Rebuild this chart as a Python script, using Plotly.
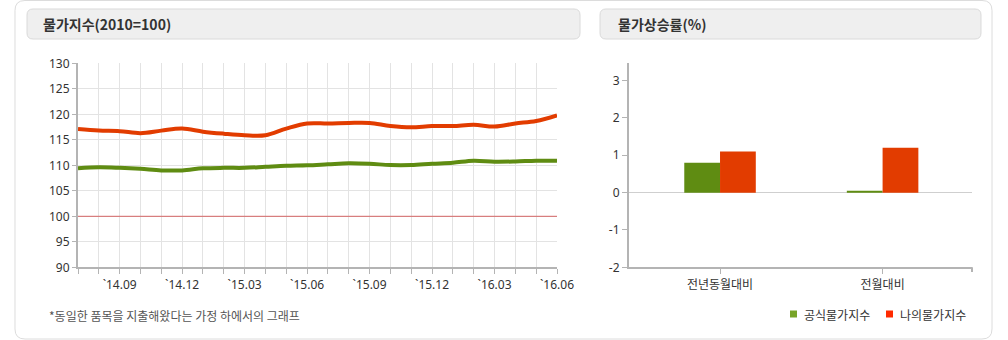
import plotly.graph_objects as go

W, H = 1008, 340

# --- data -----------------------------------------------------------------
months = ["2014-07", "2014-08", "2014-09", "2014-10", "2014-11", "2014-12",
          "2015-01", "2015-02", "2015-03", "2015-04", "2015-05", "2015-06",
          "2015-07", "2015-08", "2015-09", "2015-10", "2015-11", "2015-12",
          "2016-01", "2016-02", "2016-03", "2016-04", "2016-05", "2016-06"]
month_labels = ["", "", "`14.09", "", "", "`14.12", "", "", "`15.03", "", "", "`15.06",
                "", "", "`15.09", "", "", "`15.12", "", "", "`16.03", "", "", "`16.06"]
official_index = [109.4, 109.6, 109.5, 109.3, 109.0, 109.0, 109.4, 109.5, 109.5, 109.7,
                  109.9, 110.0, 110.2, 110.4, 110.3, 110.05, 110.05, 110.3, 110.5, 110.9,
                  110.7, 110.75, 110.9, 110.9]
my_index = [117.1, 116.8, 116.7, 116.3, 116.8, 117.2, 116.6, 116.2, 115.9, 115.9,
            117.2, 118.2, 118.2, 118.3, 118.3, 117.7, 117.45, 117.7, 117.7, 117.95,
            117.6, 118.2, 118.7, 119.8]
base_level = 100

rate_categories = ["전년동월대비", "전월대비"]
official_rate = [0.8, 0.03]
my_rate = [1.1, 1.2]
rate_ticks = [-2, -1, 0, 1, 2, 3]
rate_tick_text = ["-2", "-1", "0", "1", "2", "3"]

GREEN = "#5f8c12"
RED = "#e23c00"
FONT = "Noto Sans CJK KR, sans-serif"
NUM_FONT = "Noto Sans, sans-serif"


def px(x):
    return x / W


def py(y):
    return 1 - y / H


def round_rect(x0, y0, x1, y1, r):
    pts = [
        ("M", (x0 + r, y0)), ("L", (x1 - r, y0)), ("Q", (x1, y0), (x1, y0 + r)),
        ("L", (x1, y1 - r)), ("Q", (x1, y1), (x1 - r, y1)), ("L", (x0 + r, y1)),
        ("Q", (x0, y1), (x0, y1 - r)), ("L", (x0, y0 + r)), ("Q", (x0, y0), (x0 + r, y0)),
    ]
    out = []
    for item in pts:
        cmd = item[0]
        coords = " ".join(f"{px(a):.5f},{py(b):.5f}" for a, b in item[1:])
        out.append(f"{cmd}{coords}")
    return " ".join(out) + " Z"


fig = go.Figure()

# --- index lines ----------------------------------------------------------
fig.add_trace(go.Scatter(x=months, y=official_index, mode="lines", name="공식물가지수",
                         line=dict(color=GREEN, width=4, shape="spline", smoothing=1.0),
                         xaxis="x", yaxis="y", showlegend=False, hoverinfo="x+y"))
fig.add_trace(go.Scatter(x=months, y=my_index, mode="lines", name="나의물가지수",
                         line=dict(color=RED, width=4, shape="spline", smoothing=1.0),
                         xaxis="x", yaxis="y", showlegend=False, hoverinfo="x+y"))

# --- rate bars ------------------------------------------------------------
fig.add_trace(go.Bar(x=rate_categories, y=official_rate, name="공식물가지수",
                     marker=dict(color=GREEN, line=dict(width=0)),
                     xaxis="x2", yaxis="y2", showlegend=False))
fig.add_trace(go.Bar(x=rate_categories, y=my_rate, name="나의물가지수",
                     marker=dict(color=RED, line=dict(width=0)),
                     xaxis="x2", yaxis="y2", showlegend=False))

tick_font = dict(family=FONT, size=12, color="#333333")
num_font = dict(family=NUM_FONT, size=12, color="#333333")
grid = "#e3e3e3"
axis_line = "#b4b4b4"

shapes = [
    # outer card
    dict(type="path", xref="paper", yref="paper", layer="below",
         path=round_rect(15, 0.5, 992, 339, 10),
         line=dict(color="#dcdcdc", width=1), fillcolor="white"),
    # panel title bars
    dict(type="path", xref="paper", yref="paper", layer="below",
         path=round_rect(27, 9, 580, 39, 6),
         line=dict(color="#dadada", width=1), fillcolor="#efefef"),
    dict(type="path", xref="paper", yref="paper", layer="below",
         path=round_rect(600, 9, 981, 39, 6),
         line=dict(color="#dadada", width=1), fillcolor="#efefef"),
    # base level 100
    dict(type="line", xref="x domain", yref="y", x0=0, x1=1, y0=base_level, y1=base_level,
         line=dict(color="#d46464", width=1)),
    # end tick of rate axis
    dict(type="line", xref="paper", yref="paper", x0=px(972), x1=px(972),
         y0=py(267.3), y1=py(272), line=dict(color=axis_line, width=2)),
    # legend swatches
    dict(type="rect", xref="paper", yref="paper", x0=px(790), x1=px(797),
         y0=py(317.5), y1=py(310.5), line=dict(width=0), fillcolor="#78a428"),
    dict(type="rect", xref="paper", yref="paper", x0=px(886), x1=px(893),
         y0=py(317.5), y1=py(310.5), line=dict(width=0), fillcolor="#ff2a00"),
]

annotations = [
    dict(text="<b>물가지수(2010=100)</b>", x=px(41), y=py(24.5), xref="paper", yref="paper",
         xanchor="left", yanchor="middle", showarrow=False,
         font=dict(family=FONT, size=14, color="#333333")),
    dict(text="<b>물가상승률(%)</b>", x=px(616), y=py(24.5), xref="paper", yref="paper",
         xanchor="left", yanchor="middle", showarrow=False,
         font=dict(family=FONT, size=14, color="#333333")),
    dict(text="*동일한 품목을 지출해왔다는 가정 하에서의 그래프", x=px(47), y=py(315),
         xref="paper", yref="paper", xanchor="left", yanchor="middle", showarrow=False,
         font=dict(family=FONT, size=12, color="#555555")),
    dict(text="공식물가지수", x=px(802), y=py(314), xref="paper", yref="paper",
         xanchor="left", yanchor="middle", showarrow=False,
         font=dict(family=FONT, size=12, color="#333333")),
    dict(text="나의물가지수", x=px(898), y=py(314), xref="paper", yref="paper",
         xanchor="left", yanchor="middle", showarrow=False,
         font=dict(family=FONT, size=12, color="#333333")),
]

fig.update_layout(
    template="none",
    width=W, height=H,
    margin=dict(l=0, r=0, t=0, b=0, pad=0, autoexpand=False),
    paper_bgcolor="white",
    plot_bgcolor="rgba(0,0,0,0)",
    font=dict(family=FONT, size=12, color="#333333"),
    barmode="group", bargap=0.56, bargroupgap=0,
    shapes=shapes,
    annotations=annotations,
    xaxis=dict(domain=[px(78), px(557)], anchor="y", type="category",
               categoryorder="array", categoryarray=months,
               range=[0, len(months) - 1], automargin=False,
               tickmode="array", tickvals=months, ticktext=month_labels,
               showgrid=True, gridcolor=grid, gridwidth=1,
               ticks="outside", ticklen=5, tickcolor=axis_line, tickwidth=1,
               showline=True, linecolor=axis_line, linewidth=2,
               tickfont=num_font, zeroline=False, fixedrange=True),
    yaxis=dict(domain=[py(267.3), py(63.3)], anchor="x", range=[90, 130], dtick=5,
               automargin=False,
               showgrid=True, gridcolor=grid, gridwidth=1,
               ticks="outside", ticklen=4, tickcolor=axis_line,
               showline=True, linecolor=axis_line, linewidth=2,
               tickfont=num_font, zeroline=False, fixedrange=True),
    xaxis2=dict(domain=[px(629), px(972)], anchor="y2", type="category",
                range=[-0.56, 1.55], showgrid=False, automargin=False,
                ticks="outside", ticklen=5, tickcolor=axis_line,
                showline=True, linecolor=axis_line, linewidth=2,
                tickfont=tick_font, fixedrange=True),
    yaxis2=dict(domain=[py(267.3), py(62.7)], anchor="x2", range=[-2, 3.48],
                tickmode="array", tickvals=rate_ticks, ticktext=rate_tick_text,
                showgrid=False, automargin=False,
                zeroline=True, zerolinecolor="#cfcfcf", zerolinewidth=1,
                ticks="outside", ticklen=5, tickcolor=axis_line,
                showline=True, linecolor=axis_line, linewidth=2,
                tickfont=num_font, fixedrange=True),
)

fig.write_html("out.html", config={"displayModeBar": False})
